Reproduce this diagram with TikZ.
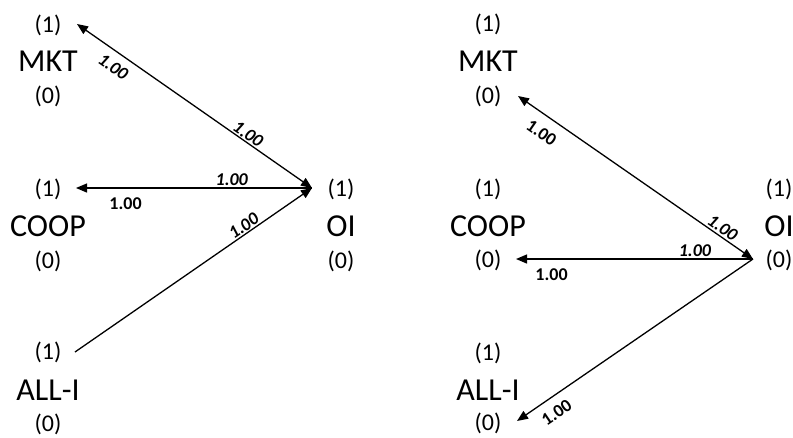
\documentclass[tikz,border=0pt]{standalone}
\usepackage{fontspec}
\setmainfont{Carlito}
\usetikzlibrary{arrows.meta}
\begin{document}
\begin{tikzpicture}[x=1pt,y=-1pt,
  every node/.style={inner sep=0pt},
  numtxt/.style={font=\fontsize{24}{28}\selectfont},
  vartxt/.style={font=\fontsize{32}{38}\selectfont},
  wgt/.style={sloped,font=\fontsize{18}{20}\selectfont\bfseries},
  wgtit/.style={sloped,font=\fontsize{18}{20}\selectfont\bfseries\itshape},
  link/.style={line width=1.3pt},
  >={Triangle[length=11pt,width=9pt]}
]
\useasboundingbox (0,0) rectangle (793,437);

% ---------- left model ----------
\node[numtxt] (mktL1) at (48,25) {(1)};
\node[vartxt] (mktL)  at (48,61) {MKT};
\node[numtxt] (mktL0) at (48,96) {(0)};

\node[numtxt] (coopL1) at (48,189) {(1)};
\node[vartxt] (coopL)  at (48,226) {COOP};
\node[numtxt] (coopL0) at (48,261) {(0)};

\node[numtxt] (alliL1) at (48,352) {(1)};
\node[vartxt] (alliL)  at (48,390) {ALL-I};
\node[numtxt] (alliL0) at (48,424) {(0)};

\node[numtxt] (oiL1) at (341,189) {(1)};
\node[vartxt] (oiL)  at (341,226) {OI};
\node[numtxt] (oiL0) at (341,261) {(0)};

\coordinate (hubL) at (312,188);
\coordinate (mktLend)  at (77,24);
\coordinate (coopLend) at (76,188);
\coordinate (alliLend) at (75,352);

\draw[link,<->] (mktLend) --
  node[wgtit,below=8pt,pos=0.19] (wMktL1) {1.00}
  node[wgtit,above=1pt,pos=0.71] (wMktL2) {1.00} (hubL);
\draw[link,<-] (coopLend) --
  node[wgt,below=9pt,pos=0.21] (wCoopL1) {1.00}
  node[wgtit,above=2pt,pos=0.66] (wCoopL2) {1.00} (hubL);
\draw[link,->] (alliLend) --
  node[wgtit,above=1pt,pos=0.73] (wAlliL) {1.00} (hubL);

% ---------- right model ----------
\node[numtxt] (mktR1) at (488,24) {(1)};
\node[vartxt] (mktR)  at (488,61) {MKT};
\node[numtxt] (mktR0) at (488,96) {(0)};

\node[numtxt] (coopR1) at (488,189) {(1)};
\node[vartxt] (coopR)  at (488,226) {COOP};
\node[numtxt] (coopR0) at (488,260) {(0)};

\node[numtxt] (alliR1) at (488,353) {(1)};
\node[vartxt] (alliR)  at (488,390) {ALL-I};
\node[numtxt] (alliR0) at (488,423) {(0)};

\node[numtxt] (oiR1) at (779,189) {(1)};
\node[vartxt] (oiR)  at (779,226) {OI};
\node[numtxt] (oiR0) at (779,260) {(0)};

\coordinate (hubR) at (753,259);
\coordinate (mktRend)  at (518,96);
\coordinate (coopRend) at (516,259);
\coordinate (alliRend) at (517,421);

\draw[link,<->] (mktRend) --
  node[wgt,below=10pt,pos=0.14] (wMktR1) {1.00}
  node[wgtit,above=2pt,pos=0.85] (wMktR2) {1.00} (hubR);
\draw[link,<-] (coopRend) --
  node[wgt,below=9pt,pos=0.15] (wCoopR1) {1.00}
  node[wgtit,above=2pt,pos=0.755] (wCoopR2) {1.00} (hubR);
\draw[link,<-] (alliRend) --
  node[wgt,below=9pt,pos=0.13] (wAlliR) {1.00} (hubR);
\end{tikzpicture}
\end{document}
